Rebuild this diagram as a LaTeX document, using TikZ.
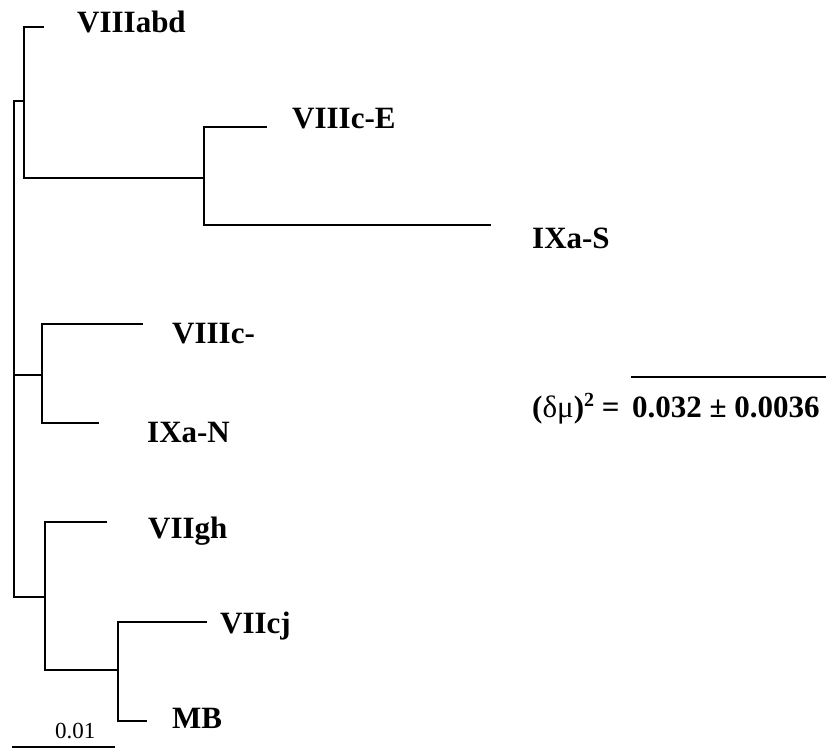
\documentclass[tikz,border=0pt]{standalone}
\usepackage{fontspec}
\setmainfont{Liberation Serif}
\begin{document}
\begin{tikzpicture}[x=1pt,y=-1pt,
  branch/.style={line width=2pt,line cap=rect},
  taxon/.style={anchor=base west,inner sep=0pt,font=\fontsize{31}{37}\selectfont\bfseries},
  scalelbl/.style={anchor=base west,inner sep=0pt,font=\fontsize{23}{27}\selectfont}]
\useasboundingbox (0,0) rectangle (833,749);
% internal nodes
\coordinate (rT) at (14,101);
\coordinate (rC) at (14,375);
\coordinate (rB) at (14,597);
\coordinate (aT) at (24,27);
\coordinate (aM) at (24,101);
\coordinate (aB) at (24,178);
\coordinate (bT) at (204,127);
\coordinate (bM) at (204,178);
\coordinate (bB) at (204,225);
\coordinate (cT) at (42,324);
\coordinate (cM) at (42,375);
\coordinate (cB) at (42,423);
\coordinate (dT) at (45,522);
\coordinate (dM) at (45,597);
\coordinate (dB) at (45,670);
\coordinate (eT) at (118,622);
\coordinate (eM) at (118,670);
\coordinate (eB) at (118,721);
% leaf ends
\coordinate (l1) at (43,27);
\coordinate (l2) at (266,127);
\coordinate (l3) at (490,225);
\coordinate (l4) at (142,324);
\coordinate (l5) at (98,423);
\coordinate (l6) at (106,522);
\coordinate (l7) at (206,622);
\coordinate (l8) at (146,721);
% scale bar
\coordinate (s1) at (13,747);
\coordinate (s2) at (114,747);
% labels
\node[taxon] (t1) at (77,33) {VIIIabd};
\node[taxon] (t2) at (292,129) {VIIIc-E};
\node[taxon] (t3) at (532,248) {IXa-S};
\node[taxon] (t4) at (172,343) {VIIIc-};
\node[taxon] (t5) at (147,442) {IXa-N};
\node[taxon] (t6) at (148,538) {VIIgh};
\node[taxon] (t7) at (220,633) {VIIcj};
\node[taxon] (t8) at (172,728) {MB};
\node[scalelbl] (sc) at (55,738) {0.01};
\node[taxon] (f1) at (532,417) {(\textmd{δμ})\raisebox{11pt}{\fontsize{20}{24}\selectfont 2} =};
\node[taxon] (f2) at (632,417) {0.032 ± 0.0036};
\coordinate (o1) at (632,377);
\coordinate (o2) at (825,377);
% tree
\draw[branch] (rT) -- (rB);
\draw[branch] (rT) -- (aM);
\draw[branch] (l1) -- (aT) -- (aB) -- (bM);
\draw[branch] (l2) -- (bT) -- (bB) -- (l3);
\draw[branch] (rC) -- (cM);
\draw[branch] (l4) -- (cT) -- (cB) -- (l5);
\draw[branch] (rB) -- (dM);
\draw[branch] (l6) -- (dT) -- (dB) -- (eM);
\draw[branch] (l7) -- (eT) -- (eB) -- (l8);
\draw[branch] (s1) -- (s2);
\draw[branch] (o1) -- (o2);
\end{tikzpicture}
\end{document}
